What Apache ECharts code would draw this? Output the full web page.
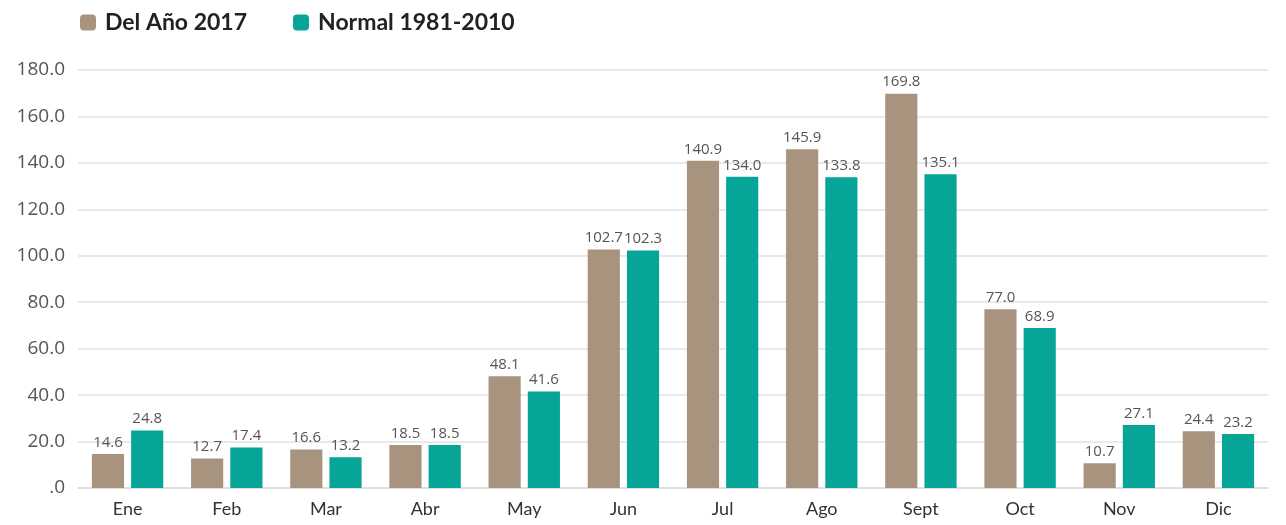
<!DOCTYPE html>
<html><head><meta charset="utf-8">
<script src="https://cdn.jsdelivr.net/npm/echarts@6/dist/echarts.min.js"></script>
<style>html,body{margin:0;padding:0;background:#fff}#c{width:1286px;height:525px}</style>
</head><body><div id="c"></div>
<script>
const categories = ['Ene','Feb','Mar','Abr','May','Jun','Jul','Ago','Sept','Oct','Nov','Dic'];
const year2017 = [14.6,12.7,16.6,18.5,48.1,102.7,140.9,145.9,169.8,77.0,10.7,24.4];
const normal = [24.8,17.4,13.2,18.5,41.6,102.3,134.0,133.8,135.1,68.9,27.1,23.2];
const seriesNames = ['Del Año 2017','Normal 1981-2010'];
const chart = echarts.init(document.getElementById('c'));
const lbl = {show:true, position:'top', distance:4, color:'#555', fontSize:15, fontFamily:'Open Sans', formatter:p=>p.value.toFixed(1)};
chart.setOption({
  animation:false,
  legend:{left:75, top:6, itemWidth:16, itemHeight:16, itemGap:46, icon:'roundRect',
    textStyle:{fontFamily:'Lato', fontWeight:'bold', fontSize:23, color:'#222', padding:[0,0,0,4]}},
  grid:{left:78, right:18, top:70, bottom:37},
  xAxis:{type:'category', data:categories, axisTick:{show:false},
    axisLine:{lineStyle:{color:'#ddd', width:1.5}},
    axisLabel:{color:'#333', fontSize:18, fontFamily:'Lato', margin:12}},
  yAxis:{type:'value', min:0, max:180, interval:20,
    axisLabel:{color:'#555', fontSize:19, fontFamily:'Open Sans', margin:13, formatter:v=>v===0?'.0':v.toFixed(1)},
    splitLine:{lineStyle:{color:'#e2e2e2', width:1.5}}},
  series:[
    {name:seriesNames[0], type:'bar', data:year2017, itemStyle:{color:'#a8937f'}, barGap:'22%', barCategoryGap:'28%', label:lbl},
    {name:seriesNames[1], type:'bar', data:normal, itemStyle:{color:'#06a597'}, label:lbl}
  ]
});
</script></body></html>
